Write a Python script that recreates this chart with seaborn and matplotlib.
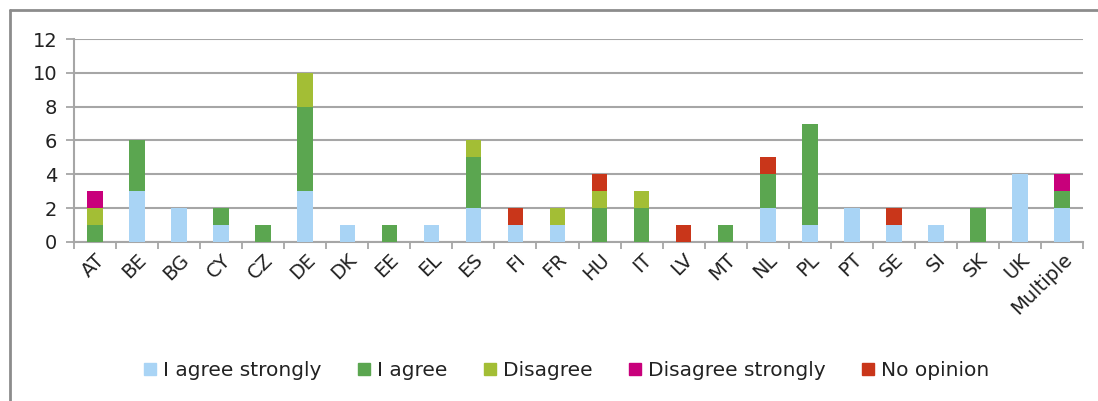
import numpy as np
import pandas as pd
import matplotlib
matplotlib.use("Agg")
import matplotlib.pyplot as plt
from matplotlib.lines import Line2D
import seaborn as sns

countries = ["AT", "BE", "BG", "CY", "CZ", "DE", "DK", "EE", "EL", "ES", "FI", "FR",
             "HU", "IT", "LV", "MT", "NL", "PL", "PT", "SE", "SI", "SK", "UK", "Multiple"]
agree_strongly    = [0, 3, 2, 1, 0, 3, 1, 0, 1, 2, 1, 1, 0, 0, 0, 0, 2, 1, 2, 1, 1, 0, 4, 2]
agree             = [1, 3, 0, 1, 1, 5, 0, 1, 0, 3, 0, 0, 2, 2, 0, 1, 2, 6, 0, 0, 0, 2, 0, 1]
disagree          = [1, 0, 0, 0, 0, 2, 0, 0, 0, 1, 0, 1, 1, 1, 0, 0, 0, 0, 0, 0, 0, 0, 0, 0]
disagree_strongly = [1, 0, 0, 0, 0, 0, 0, 0, 0, 0, 0, 0, 0, 0, 0, 0, 0, 0, 0, 0, 0, 0, 0, 1]
no_opinion        = [0, 0, 0, 0, 0, 0, 0, 0, 0, 0, 1, 0, 1, 0, 1, 0, 1, 0, 0, 1, 0, 0, 0, 0]
series_names = ["I agree strongly", "I agree", "Disagree", "Disagree strongly", "No opinion"]
colors = ["#A9D4F5", "#5BA650", "#A3BE35", "#C8007B", "#C9361A"]

series = [agree_strongly, agree, disagree, disagree_strongly, no_opinion]
df = pd.DataFrame(dict(zip(series_names, series)), index=countries)
cum = df.cumsum(axis=1)

sns.set_theme(style="white")
plt.rcParams["font.family"] = ["DejaVu Sans"]
plt.rcParams["text.color"] = "#222222"

fig = plt.figure(figsize=(10.98, 4.01), dpi=100)
ax = fig.add_axes([0.0674, 0.397, 0.919, 0.5057])

# draw cumulative totals from the top segment down so lower segments overlay
for name, col in reversed(list(zip(series_names, colors))):
    sns.barplot(x=countries, y=cum[name].values, color=col, saturation=1,
                width=0.37, ax=ax, zorder=3, edgecolor="none", linewidth=0)

ax.set_ylim(0, 12)
ax.set_xlim(-0.5, len(countries) - 0.5)
ax.set_yticks(np.arange(0, 13, 2))
ax.yaxis.grid(True, color="#A6A6A6", linewidth=1.5, zorder=0)
ax.set_axisbelow(True)
for s in ["top", "right"]:
    ax.spines[s].set_visible(False)
for s in ["left", "bottom"]:
    ax.spines[s].set_color("#A6A6A6")
    ax.spines[s].set_linewidth(1.5)

ax.set_xticks(np.arange(-0.5, len(countries), 1), minor=True)
ax.tick_params(axis="x", which="major", length=0, pad=6, labelsize=14, labelcolor="#222222")
ax.tick_params(axis="x", which="minor", length=5, width=1.3, color="#A6A6A6", direction="out", bottom=True)
ax.tick_params(axis="y", which="major", length=6, width=1.3, color="#A6A6A6", direction="out",
               left=True, labelsize=14, labelcolor="#222222", pad=6)
plt.setp(ax.get_xticklabels(), rotation=45, ha="right", rotation_mode="anchor")
ax.set_xlabel("")
ax.set_ylabel("")

handles = [Line2D([0], [0], marker="s", linestyle="none", markersize=8,
                  markerfacecolor=c, markeredgecolor=c) for c in colors]
fig.legend(handles, series_names, loc="center", bbox_to_anchor=(0.515, 0.075), ncol=5,
           frameon=False, fontsize=14.5, handlelength=0.8, handletextpad=0.25,
           columnspacing=1.7)

# outer chart-area border (left and top visible)
fig.add_artist(Line2D([0.0095, 0.0095], [0, 0.975], transform=fig.transFigure,
                      color="#8C8C8C", linewidth=2))
fig.add_artist(Line2D([0.0095, 1.0], [0.975, 0.975], transform=fig.transFigure,
                      color="#8C8C8C", linewidth=2))

fig.savefig("out.png", dpi=100)
